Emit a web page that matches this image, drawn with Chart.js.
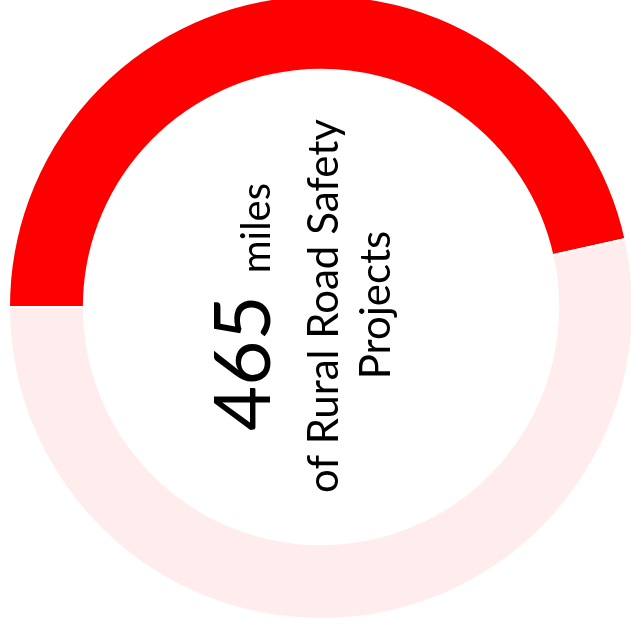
<!DOCTYPE html>
<html>
<head>
<meta charset="utf-8">
<script src="https://cdn.jsdelivr.net/npm/chart.js@4.4.1/dist/chart.umd.min.js"></script>
<style>
    html, body { margin: 0; padding: 0; background: #fff; overflow: hidden; }
    #wrap { position: absolute; left: 8px; top: -6px; width: 626px; height: 626px; }
</style>
</head>
<body>
<div id="wrap"><canvas id="milesChart"></canvas></div>
<script>
// data
const labels = ['Completed', 'Remaining'];
const miles = [465, 535];
const colors = ['#ff0000', '#ffeded'];

// center text
const bigNumber = '465';
const unitText = 'miles';
const subLines = ['of Rural Road Safety', 'Projects'];

const centerText = {
    id: 'centerText',
    afterDraw(chart) {
        const ctx = chart.ctx;
        const arc = chart.getDatasetMeta(0).data[0];
        ctx.save();
        ctx.translate(arc.x, arc.y);
        ctx.rotate(-Math.PI / 2);
        ctx.fillStyle = '#000';
        ctx.textBaseline = 'alphabetic';

        // first line: big number + unit
        ctx.font = '78px Lato';
        const w1 = ctx.measureText(bigNumber).width;
        ctx.font = '40px Lato';
        const w2 = ctx.measureText(unitText).width;
        const gap = 22;
        let x = -(w1 + gap + w2) / 2;
        ctx.textAlign = 'left';
        ctx.font = '78px Lato';
        ctx.fillText(bigNumber, x, -51);
        ctx.font = '40px Lato';
        ctx.fillText(unitText, x + w1 + gap, -51);

        // sub lines
        ctx.textAlign = 'center';
        ctx.font = '42px Lato';
        ctx.fillText(subLines[0], 1, 17);
        ctx.fillText(subLines[1], 2, 69);
        ctx.restore();
    }
};

const ctx = document.getElementById('milesChart').getContext('2d');
const milesChart = new Chart(ctx, {
    type: 'doughnut',
    data: {
        labels: labels,
        datasets: [{
            data: miles,
            backgroundColor: colors,
            borderColor: '#ffffff',
            borderWidth: 2
        }]
    },
    options: {
        responsive: true,
        maintainAspectRatio: false,
        animation: false,
        rotation: -90,
        cutout: '76%',
        layout: { padding: 0 },
        plugins: {
            legend: { display: false },
            tooltip: { enabled: false }
        }
    },
    plugins: [centerText]
});
</script>
</body>
</html>
